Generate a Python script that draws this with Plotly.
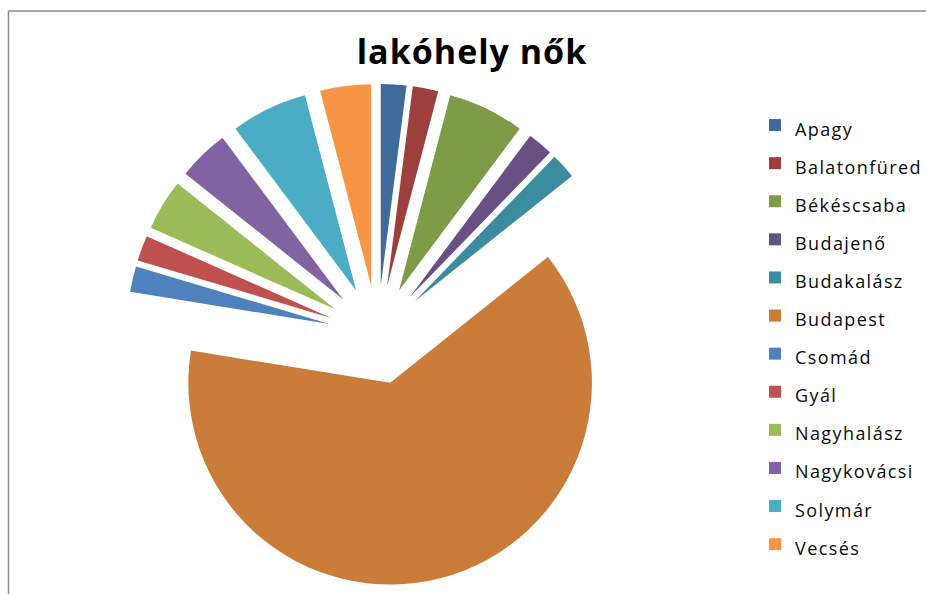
import plotly.graph_objects as go

# Place of residence of the women surveyed (counts)
categories = ["Apagy", "Balatonfüred", "Békéscsaba", "Budajenő", "Budakalász",
              "Budapest", "Csomád", "Gyál", "Nagyhalász", "Nagykovácsi",
              "Solymár", "Vecsés"]
counts = [1, 1, 3, 1, 1, 31, 1, 1, 2, 2, 3, 2]
colors = ["#3F6A9C", "#9D403D", "#7E9B48", "#675083", "#3B8BA1", "#CB7C39",
          "#4F81BD", "#C0504D", "#9BBB59", "#8064A2", "#4BACC6", "#F79646"]

W, H = 927, 594

# Legend labels: small visible text inside a larger legend font, which
# gives the roomy row spacing of the legend
labels = [
    f"<span style='font-size:18px;letter-spacing:1.4px'>{c}</span>"
    for c in categories
]

# Exploded pie geometry (pixels)
cx, cy, radius, pull = 378, 335, 202, 0.245
half = radius * (1 + pull)

fig = go.Figure(
    go.Pie(
        labels=labels,
        values=counts,
        marker=dict(colors=colors, line=dict(width=0)),
        pull=[pull] * len(counts),
        sort=False,
        direction="clockwise",
        rotation=0,
        textinfo="none",
        hoverinfo="label+value+percent",
        domain=dict(
            x=[(cx - half) / W, (cx + half) / W],
            y=[1 - (cy + half) / H, 1 - (cy - half) / H],
        ),
    )
)

fig.update_layout(
    width=W,
    height=H,
    margin=dict(l=0, r=0, t=0, b=0),
    paper_bgcolor="white",
    plot_bgcolor="white",
    font=dict(family="Open Sans, DejaVu Sans, sans-serif", color="#111111"),
    title=dict(
        text="<span style='letter-spacing:1px'>lakóhely nők</span>",
        font=dict(family="Open Sans, sans-serif", size=34, color="#000000",
                  weight="bold"),
        x=472 / W,
        xanchor="center",
        y=1 - 52 / H,
        yanchor="middle",
        yref="paper",
    ),
    legend=dict(
        x=756 / W,
        xanchor="left",
        y=1 - 101 / H,
        yanchor="top",
        font=dict(size=27, color="#0a0a0a"),
        bgcolor="rgba(0,0,0,0)",
        traceorder="normal",
    ),
    showlegend=True,
    shapes=[
        dict(type="line", xref="paper", yref="paper",
             x0=8.5 / W, x1=8.5 / W, y0=0, y1=1 - 11 / H,
             line=dict(color="#8a8a8a", width=1.5)),
        dict(type="line", xref="paper", yref="paper",
             x0=8.5 / W, x1=1, y0=1 - 11 / H, y1=1 - 11 / H,
             line=dict(color="#8a8a8a", width=1.5)),
    ],
)

fig.write_html("out.html")
